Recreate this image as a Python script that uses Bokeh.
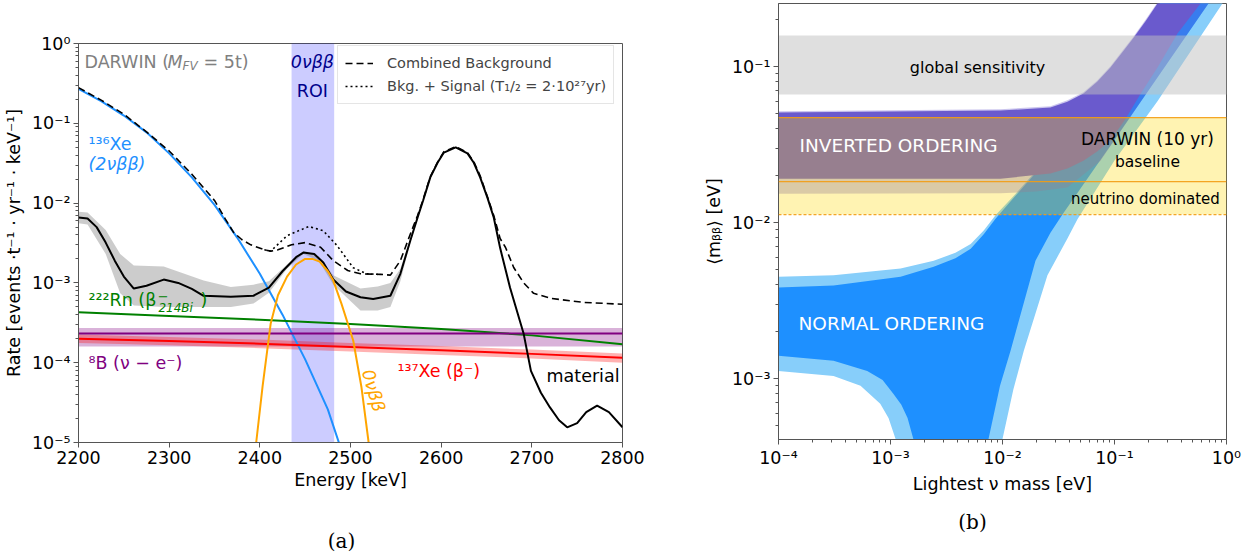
from bokeh.plotting import figure
from bokeh.models import Label, FixedTicker, CustomJSTickFormatter, Range1d, Span
from bokeh.embed import file_html
from bokeh.resources import INLINE

FONT = "DejaVu Sans"

# ---------------- panel (a): background spectrum ----------------
energy_ticks = [2200, 2300, 2400, 2500, 2600, 2700, 2800]
rate_ticks = [1e-5, 1e-4, 1e-3, 1e-2, 1e-1, 1.0]
roi_window = [2435, 2482]

xe136_energy = [2200, 2225, 2250, 2275, 2300, 2325, 2350, 2375, 2400, 2425, 2450, 2475, 2490, 2500]
xe136_rate = [0.27, 0.19, 0.125, 0.077, 0.042, 0.021, 9.5e-3, 3.7e-3, 1.3e-3, 4.0e-4, 1.1e-4, 2.6e-5, 8e-6, 4e-6]

flat_energy = [2200, 2300, 2400, 2500, 2600, 2700, 2800]
rn222_rate = [4.3e-4, 3.85e-4, 3.45e-4, 3.05e-4, 2.65e-4, 2.2e-4, 1.7e-4]
b8_rate = [2.33e-4, 2.33e-4, 2.33e-4, 2.33e-4, 2.33e-4, 2.33e-4, 2.33e-4]
b8_lo = [1.6e-4, 1.6e-4, 1.6e-4, 1.6e-4, 1.6e-4, 1.6e-4, 1.6e-4]
b8_hi = [2.73e-4, 2.73e-4, 2.73e-4, 2.73e-4, 2.73e-4, 2.73e-4, 2.73e-4]
xe137_rate = [2.0e-4, 1.87e-4, 1.73e-4, 1.57e-4, 1.43e-4, 1.29e-4, 1.15e-4]
xe137_lo = [1.77e-4, 1.65e-4, 1.52e-4, 1.38e-4, 1.25e-4, 1.13e-4, 1.0e-4]
xe137_hi = [2.25e-4, 2.1e-4, 1.95e-4, 1.77e-4, 1.62e-4, 1.46e-4, 1.3e-4]

material_energy = [2200, 2210, 2220, 2230, 2240, 2250, 2261, 2275, 2294, 2310, 2325, 2338, 2368,
                   2393, 2410, 2425, 2440, 2448, 2460, 2470, 2481, 2495, 2511, 2525, 2544, 2555,
                   2566, 2574, 2580, 2588, 2596, 2603, 2616, 2629, 2636, 2643, 2651, 2658, 2665,
                   2676, 2691, 2699, 2710, 2720, 2730, 2739, 2750, 2760, 2772, 2785, 2800]
material_rate = [6.6e-3, 6.4e-3, 5.0e-3, 3.2e-3, 1.9e-3, 1.2e-3, 8.5e-4, 9.2e-4, 1.1e-3, 1.0e-3,
                 8.4e-4, 6.9e-4, 6.7e-4, 6.9e-4, 8.7e-4, 1.4e-3, 2.1e-3, 2.4e-3, 2.3e-3, 1.8e-3,
                 1.1e-3, 7.8e-4, 6.6e-4, 6.3e-4, 6.9e-4, 1.3e-3,
                 3.4e-3, 6.6e-3, 1.07e-2, 2.1e-2, 3.2e-2, 4.3e-2, 5.0e-2, 4.2e-2, 3.2e-2, 2.1e-2,
                 1.17e-2, 6.6e-3, 2.75e-3,
                 8.7e-4, 2.3e-4, 7.9e-5, 4.2e-5, 2.75e-5, 1.9e-5, 1.55e-5, 1.75e-5, 2.4e-5, 2.9e-5,
                 2.4e-5, 1.55e-5]
material_band_energy = [2200, 2210, 2230, 2246, 2261, 2294, 2338, 2368, 2393, 2410, 2430, 2448,
                        2465, 2481, 2511, 2530, 2544, 2555, 2566, 2580]
material_band_hi = [7.8e-3, 7.6e-3, 4.6e-3, 2.3e-3, 1.65e-3, 1.6e-3, 1.07e-3, 8.9e-4, 9.5e-4, 1.05e-3,
                    1.7e-3, 2.5e-3, 2.15e-3, 1.25e-3, 8.5e-4, 9.0e-4, 1.0e-3, 1.5e-3, 3.6e-3, 1.1e-2]
material_band_lo = [5.6e-3, 5.4e-3, 2.3e-3, 7.4e-4, 5.2e-4, 5.0e-4, 5.0e-4, 5.0e-4, 5.5e-4, 7.5e-4,
                    1.5e-3, 2.3e-3, 1.9e-3, 9.5e-4, 4.5e-4, 4.5e-4, 5.0e-4, 1.05e-3, 3.2e-3, 1.04e-2]

onbb_energy = [2388, 2396, 2403, 2412, 2420, 2430, 2440, 2450, 2458, 2466, 2475, 2481, 2490, 2503, 2512, 2520, 2528]
onbb_rate = [3e-6, 1e-5, 5e-5, 3.1e-4, 7e-4, 1.2e-3, 1.7e-3, 2.0e-3, 2.0e-3, 1.85e-3, 1.4e-3, 1.07e-3,
             5.5e-4, 1.9e-4, 5e-5, 1e-5, 3e-6]

combined_energy = [2200, 2225, 2250, 2275, 2300, 2325, 2350, 2362, 2371, 2380, 2390, 2405, 2412, 2420,
                   2435, 2450, 2467, 2481, 2497, 2511, 2533, 2544, 2555, 2566, 2574, 2580, 2588, 2596,
                   2603, 2616, 2629, 2636, 2643, 2651, 2658, 2665, 2671, 2680, 2691, 2702, 2721, 2757, 2800]
combined_rate = [0.28, 0.195, 0.13, 0.078, 0.045, 0.023, 0.0108, 6.3e-3, 4.3e-3, 3.5e-3, 3.0e-3,
                 2.6e-3, 2.5e-3, 2.6e-3,
                 3.0e-3, 3.2e-3, 2.8e-3, 1.9e-3, 1.43e-3, 1.3e-3, 1.28e-3, 1.25e-3, 1.9e-3, 4.1e-3,
                 7.0e-3, 1.1e-2, 2.15e-2, 3.25e-2, 4.4e-2, 5.1e-2, 4.3e-2, 3.3e-2, 2.2e-2, 1.2e-2,
                 7.0e-3, 3.6e-3, 2.78e-3, 1.56e-3, 1.0e-3, 7.4e-4, 6.4e-4, 5.7e-4, 5.4e-4]

signal_energy = [2405, 2412, 2430, 2454, 2470, 2485, 2503, 2518, 2530]
signal_rate = [2.6e-3, 2.5e-3, 3.9e-3, 5.1e-3, 4.5e-3, 2.95e-3, 1.55e-3, 1.3e-3, 1.28e-3]

# ---------------- panel (b): effective Majorana mass ----------------
mass_ticks = [1e-4, 1e-3, 1e-2, 1e-1, 1.0]
mbb_ticks = [1e-3, 1e-2, 1e-1]

no_light_up_m = [1e-4, 3.1e-4, 1.23e-3, 2.43e-3, 3.8e-3, 5.2e-3, 6.8e-3, 8.7e-3, 0.013, 0.02, 0.05, 0.1, 0.25, 1.0]
no_light_up_v = [4.5e-3, 4.6e-3, 5.07e-3, 5.7e-3, 6.4e-3, 7.3e-3, 8.9e-3, 0.0112, 0.0152, 0.0215, 0.051, 0.1, 0.25, 1.0]
no_light_lo_m = [1e-4, 3.1e-4, 5.4e-4, 8.1e-4, 9.6e-4, 1.11e-3, 1.4e-3, 1.8e-3, 3e-3, 6e-3, 8.5e-3, 0.01,
                 0.0125, 0.0155, 0.0252, 0.038, 0.0467, 0.1, 0.242, 0.92, 1.0]
no_light_lo_v = [1.12e-3, 1.04e-3, 9.0e-4, 6.9e-4, 5.6e-4, 4.1e-4, 1.5e-4, 1e-5, 1e-6, 1e-6, 1.5e-4, 4.1e-4,
                 8.5e-4, 1.51e-3, 4.6e-3, 7.9e-3, 0.0105, 0.025, 0.06, 0.2535, 0.28]
no_dark_up_m = [1e-4, 3.1e-4, 1.23e-3, 2.43e-3, 3.8e-3, 5.2e-3, 6.8e-3, 8.7e-3, 0.013, 0.02, 0.05, 0.1, 0.25, 1.0]
no_dark_up_v = [3.83e-3, 3.95e-3, 4.5e-3, 5.2e-3, 5.9e-3, 6.8e-3, 8.4e-3, 0.0106, 0.0148, 0.021, 0.0505, 0.1, 0.25, 1.0]
no_dark_lo_m = [1e-4, 3.1e-4, 6.2e-4, 8.5e-4, 1.06e-3, 1.25e-3, 1.42e-3, 1.6e-3, 2.0e-3, 2.6e-3, 3.5e-3, 5e-3,
                6.5e-3, 7.5e-3, 9.5e-3, 0.0118, 0.0197, 0.0268, 0.0343, 0.1, 0.69, 1.0]
no_dark_lo_v = [1.40e-3, 1.30e-3, 1.12e-3, 9.8e-4, 8.0e-4, 6.8e-4, 5.6e-4, 4.1e-4, 1.8e-4, 2e-5, 1e-6, 2e-5,
                2e-4, 4.1e-4, 9.0e-4, 1.51e-3, 5.7e-3, 8.6e-3, 0.01125, 0.034, 0.2535, 0.37]

io_light_up_m = [1e-4, 9.6e-3, 0.0268, 0.038, 0.0528, 0.07, 0.092, 0.118, 0.148, 0.19, 0.242, 0.5, 1.0]
io_light_up_v = [0.0517, 0.0532, 0.0557, 0.0607, 0.0685, 0.0815, 0.1005, 0.1265, 0.156, 0.2, 0.258, 0.53, 1.05]
io_light_lo_m = [1e-4, 9.6e-3, 0.02, 0.038, 0.075, 0.2, 0.69, 1.0]
io_light_lo_v = [0.0153, 0.0154, 0.0158, 0.0168, 0.0249, 0.07, 0.2535, 0.37]
io_dark_up_m = [1e-4, 9.6e-3, 0.0268, 0.038, 0.0528, 0.07, 0.092, 0.118, 0.148, 0.19, 0.242, 0.5, 1.0]
io_dark_up_v = [0.0507, 0.0522, 0.0546, 0.0595, 0.0671, 0.08, 0.0985, 0.124, 0.153, 0.196, 0.2535, 0.52, 1.03]
io_dark_lo_m = [1e-4, 9.6e-3, 0.0268, 0.038, 0.0528, 0.07, 0.092, 0.125, 0.171, 0.242, 0.365, 0.586, 1.0]
io_dark_lo_v = [0.0191, 0.0191, 0.0206, 0.0222, 0.0249, 0.0285, 0.0336, 0.046, 0.067, 0.0985, 0.163, 0.2535, 0.43]

band_labels = ["global sensitivity", "DARWIN baseline", "neutrino dominated"]
band_bottom = [0.0661, 0.01832, 0.01125]
band_top = [0.158, 0.0471, 0.01832]
darwin_solid_lines = [0.0471, 0.01832]
darwin_dashed_line = 0.01125

SUP_JS = """
const sup = {"-": "\u207b", "0": "\u2070", "1": "\u00b9", "2": "\u00b2", "3": "\u00b3",
             "4": "\u2074", "5": "\u2075", "6": "\u2076", "7": "\u2077", "8": "\u2078", "9": "\u2079"};
const e = Math.round(Math.log10(tick));
let s = "";
for (const c of String(e)) { s += sup[c]; }
return "10" + s;
"""


def style_axes(p):
    p.xgrid.visible = False
    p.ygrid.visible = False
    p.outline_line_color = "#555555"
    p.outline_line_width = 1
    p.outline_line_alpha = 1
    p.background_fill_color = "white"
    p.border_fill_color = "white"
    for ax in (p.xaxis[0], p.yaxis[0]):
        ax.axis_line_color = "#555555"
        ax.major_tick_line_color = "#555555"
        ax.minor_tick_line_color = "#555555"
        ax.major_tick_out = 5
        ax.major_tick_in = 0
        ax.minor_tick_out = 3
        ax.minor_tick_in = 0
        ax.major_label_text_font = FONT
        ax.major_label_text_font_size = "17.5px"
        ax.major_label_text_color = "black"
        ax.axis_label_text_font = FONT
        ax.axis_label_text_font_size = "17.5px"
        ax.axis_label_text_font_style = "normal"
        ax.axis_label_text_color = "black"
    p.xaxis[0].major_label_standoff = 3
    p.xaxis[0].axis_label_standoff = 3
    p.yaxis[0].major_label_standoff = 3


def add_text(p, text, x, y, color, size="17.5px", align="left", style="normal", angle=0.0, font=FONT):
    p.add_layout(Label(x=x, y=y, text=text, text_color=color, text_font=font, text_font_size=size,
                       text_align=align, text_baseline="middle", text_font_style=style, angle=angle))


# ================= figure (a) =================
p1 = figure(width=700, height=556, x_range=Range1d(2200, 2800), y_range=Range1d(1e-5, 1.0),
            y_axis_type="log", output_backend="svg", toolbar_location=None, title=None,
            min_border_left=78, min_border_right=78, min_border_top=43, min_border_bottom=114)
style_axes(p1)
p1.xaxis.ticker = FixedTicker(ticks=energy_ticks)
p1.xaxis.minor_tick_line_color = None
rate_minor = [m * t for t in rate_ticks[:-1] for m in range(2, 10)]
p1.yaxis.ticker = FixedTicker(ticks=rate_ticks, minor_ticks=rate_minor)
p1.yaxis.formatter = CustomJSTickFormatter(code=SUP_JS)
p1.xaxis.axis_label = "Energy [keV]"
p1.yaxis.axis_label = "Rate [events \u00b7t\u207b\u00b9 \u00b7 yr\u207b\u00b9 \u00b7 keV\u207b\u00b9]"

# ROI
p1.quad(left=[roi_window[0]], right=[roi_window[1]], bottom=[1e-6], top=[10.0],
        fill_color="blue", fill_alpha=0.2, line_color=None)
# bands
p1.varea(x=material_band_energy, y1=material_band_lo, y2=material_band_hi, fill_color="gray", fill_alpha=0.4)
p1.varea(x=flat_energy, y1=b8_lo, y2=b8_hi, fill_color="purple", fill_alpha=0.3)
p1.varea(x=flat_energy, y1=xe137_lo, y2=xe137_hi, fill_color="red", fill_alpha=0.3)
# lines
p1.line(xe136_energy, xe136_rate, line_color="#1e90ff", line_width=2)
p1.line(flat_energy, rn222_rate, line_color="green", line_width=2)
p1.line(flat_energy, b8_rate, line_color="purple", line_width=2)
p1.line(flat_energy, xe137_rate, line_color="red", line_width=2)
p1.line(material_energy, material_rate, line_color="black", line_width=2)
p1.line(onbb_energy, onbb_rate, line_color="orange", line_width=2)
p1.line(combined_energy, combined_rate, line_color="black", line_width=1.6, line_dash="7 4",
        legend_label="Combined Background")
p1.line(signal_energy, signal_rate, line_color="black", line_width=1.6, line_dash="2 3",
        legend_label="Bkg. + Signal (T\u2081/\u2082 = 2\u00b710\u00b2\u2077yr)")

lg = p1.legend[0]
lg.location = (259, 338)
lg.padding = 7
lg.spacing = 3
lg.label_height = 20
lg.glyph_height = 20
lg.glyph_width = 28
lg.label_standoff = 14
lg.label_text_font = FONT
lg.label_text_font_size = "14.5px"
lg.border_line_color = "#cccccc"
lg.border_line_width = 1
lg.background_fill_alpha = 0.85
lg.margin = 0

# texts panel (a)
add_text(p1, "DARWIN (", 2206.6, 0.586, "gray")
add_text(p1, "M", 2298.2, 0.586, "gray", style="italic")
add_text(p1, "FV", 2314.7, 0.515, "gray", size="12px", style="italic")
add_text(p1, "= 5t)", 2337.9, 0.586, "gray")
add_text(p1, "0\u03bd\u03b2\u03b2", 2458, 0.594, "darkblue", align="center", style="italic")
add_text(p1, "ROI", 2458, 0.251, "darkblue", align="center")
add_text(p1, "\u00b9\u00b3\u2076Xe", 2211, 0.0558, "#1e90ff")
add_text(p1, "(2\u03bd\u03b2\u03b2)", 2211, 0.0305, "#1e90ff", style="italic")
add_text(p1, "\u00b2\u00b2\u00b2Rn (\u03b2", 2211, 6.02e-4, "green")
add_text(p1, "\u2212", 2287.5, 6.7e-4, "green", size="13px")
add_text(p1, "214Bi", 2288.2, 4.79e-4, "green", size="12px", style="italic")
add_text(p1, ")", 2334.6, 6.02e-4, "green")
add_text(p1, "\u2078B (\u03bd \u2212 e\u207b)", 2211, 9.8e-5, "purple")
add_text(p1, "\u00b9\u00b3\u2077Xe (\u03b2\u207b)", 2551.8, 7.9e-5, "red")
add_text(p1, "material", 2716.2, 6.9e-5, "black")
add_text(p1, "0\u03bd\u03b2\u03b2", 2525.3, 4.47e-5, "orange", align="center", style="italic", angle=-1.29)

# ================= figure (b) =================
p2 = figure(width=556, height=556, x_range=Range1d(1e-4, 1.0), y_range=Range1d(4.07e-4, 0.2535),
            x_axis_type="log", y_axis_type="log", output_backend="svg", toolbar_location=None, title=None,
            min_border_left=78, min_border_right=30, min_border_top=3, min_border_bottom=117)
style_axes(p2)
mass_minor = [m * t for t in mass_ticks[:-1] for m in range(2, 10)]
mbb_minor = [m * t for t in [1e-4, 1e-3, 1e-2, 1e-1] for m in range(2, 10)]
p2.xaxis.ticker = FixedTicker(ticks=mass_ticks, minor_ticks=mass_minor)
p2.yaxis.ticker = FixedTicker(ticks=mbb_ticks, minor_ticks=mbb_minor)
p2.xaxis.formatter = CustomJSTickFormatter(code=SUP_JS)
p2.yaxis.formatter = CustomJSTickFormatter(code=SUP_JS)
p2.xaxis.axis_label = "Lightest \u03bd mass [eV]"
p2.yaxis.axis_label = "\u27e8m\u1d66\u1d66\u27e9 [eV]"


def band_patch(up_m, up_v, lo_m, lo_v):
    return list(up_m) + list(reversed(lo_m)), list(up_v) + list(reversed(lo_v))


xs, ys = band_patch(no_light_up_m, no_light_up_v, no_light_lo_m, no_light_lo_v)
p2.patch(xs, ys, fill_color="#87cefa", line_color=None)
xs, ys = band_patch(no_dark_up_m, no_dark_up_v, no_dark_lo_m, no_dark_lo_v)
p2.patch(xs, ys, fill_color="#1e90ff", line_color=None)
xs, ys = band_patch(io_light_up_m, io_light_up_v, io_light_lo_m, io_light_lo_v)
p2.patch(xs, ys, fill_color="#6a5acd", fill_alpha=0.35, line_color=None)
xs, ys = band_patch(io_dark_up_m, io_dark_up_v, io_dark_lo_m, io_dark_lo_v)
p2.patch(xs, ys, fill_color="#6a5acd", line_color=None)

band_colors = ["silver", "gold", "gold"]
band_alphas = [0.5, 0.3, 0.3]
for b, t, c, a in zip(band_bottom, band_top, band_colors, band_alphas):
    p2.quad(left=[1e-5], right=[10.0], bottom=[b], top=[t], fill_color=c, fill_alpha=a, line_color=None)
for yv in darwin_solid_lines:
    p2.add_layout(Span(location=yv, dimension="width", line_color="#f39c12", line_width=1.2, line_alpha=0.9))
p2.add_layout(Span(location=darwin_dashed_line, dimension="width", line_color="#f39c12", line_width=1.2,
                   line_alpha=0.9, line_dash="3 2"))

add_text(p2, "global sensitivity", 5.98e-3, 0.0985, "black", size="16px", align="center")
add_text(p2, "INVERTED ORDERING", 1.18e-3, 0.0312, "white", size="18.5px", align="center")
add_text(p2, "NORMAL ORDERING", 1.02e-3, 2.25e-3, "white", size="18.5px", align="center")
add_text(p2, "DARWIN (10 yr)", 0.197, 0.0345, "black", size="17px", align="center")
add_text(p2, "baseline", 0.197, 0.0243, "black", size="15.5px", align="center")
add_text(p2, "neutrino dominated", 0.189, 0.01425, "black", size="15px", align="center")

# ================= caption strip (sub-figure letters) =================
cap = figure(width=1256, height=56, x_range=Range1d(0, 1256), y_range=Range1d(0, 56),
             output_backend="svg", toolbar_location=None, title=None,
             x_axis_location=None, y_axis_location=None,
             min_border_left=0, min_border_right=0, min_border_top=0, min_border_bottom=0)
cap.xgrid.visible = False
cap.ygrid.visible = False
cap.outline_line_color = None
cap.background_fill_alpha = 0
cap.border_fill_alpha = 0
cap.add_layout(Label(x=341, y=16, text="(a)", text_font="DejaVu Serif", text_font_size="20px",
                     text_align="center", text_baseline="middle", text_color="black"))
cap.add_layout(Label(x=972, y=35, text="(b)", text_font="DejaVu Serif", text_font_size="20px",
                     text_align="center", text_baseline="middle", text_color="black"))

# independent roots placed side by side (no frame alignment between the panels)
p1.styles = {"position": "absolute", "left": "0px", "top": "0px"}
p2.styles = {"position": "absolute", "left": "700px", "top": "0px"}
cap.styles = {"position": "absolute", "left": "0px", "top": "500px"}
open("out.html", "w").write(file_html([p1, p2, cap], INLINE))
